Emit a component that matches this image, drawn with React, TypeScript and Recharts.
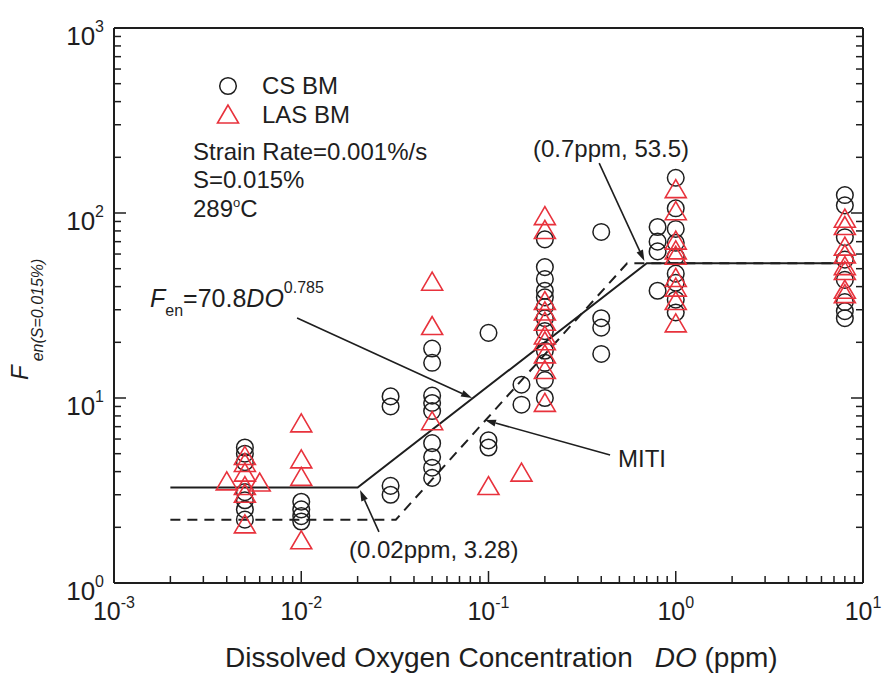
import React from 'react';
import { ComposedChart, XAxis, YAxis, Scatter, Line, ReferenceLine } from 'recharts';

const W = 884;
const H = 677;
const INK = '#1e1e1e';
const RED = '#e8323c';
const FONT = '"Liberation Sans", Arial, Helvetica, sans-serif';

// Carbon steel base metal (CS BM): DO column -> Fen values
const csDO = [0.005, 0.01, 0.03, 0.05, 0.1, 0.15, 0.2, 0.4, 0.8, 1, 8];
const csFen = [
  [5.4, 5.0, 4.5, 3.1, 2.8, 2.5, 2.2],
  [2.75, 2.5, 2.3, 2.15],
  [10.2, 9.0, 3.35, 3.0],
  [18.5, 15.5, 10.3, 9.4, 8.5, 5.7, 4.8, 4.2, 3.7],
  [22.5, 5.9, 5.4],
  [11.8, 9.2],
  [72, 51, 44, 38, 35, 31, 27, 23, 18, 15.5, 12.5, 10],
  [79, 27, 24, 17.3],
  [84, 70, 62, 38],
  [155, 106, 82, 69, 58, 47, 42, 34, 29],
  [125, 110, 74, 56, 43.5, 33, 29.5, 27],
];

// Low alloy steel base metal (LAS BM)
const lasDO = [0.004, 0.005, 0.006, 0.01, 0.05, 0.1, 0.15, 0.2, 1, 8];
const lasFen = [
  [3.5],
  [4.8, 4.4, 3.9, 3.3, 3.0, 2.05],
  [3.45],
  [7.2, 4.6, 3.7, 1.68],
  [42, 24.2, 7.4],
  [3.3],
  [3.9],
  [95, 80, 33, 29, 25.5, 21.5, 20, 17, 14, 9.3],
  [133, 101, 70, 62, 58, 44, 39, 33, 25],
  [92, 84, 65, 59, 51, 48, 38, 36],
];

// Fen = 70.8 DO^0.785 model (solid) and MITI (dashed)
const modelDO = [0.002, 0.02, 0.7, 8];
const modelFen = [3.28, 3.28, 53.5, 53.5];
const mitiDO = [0.002, 0.032, 0.55, 8];
const mitiFen = [2.2, 2.2, 53.5, 53.5];

// annotation arrows, in data coordinates [DO, Fen]
const arrowFrom = [[0.39, 186], [0.0095, 27.1], [0.446, 4.92], [0.026, 1.89]];
const arrowTo = [[0.68, 55], [0.0817, 10], [0.0957, 7.6], [0.0206, 3.18]];

const decades = (lo: number, hi: number) => {
  const out: number[] = [];
  for (let d = lo; d < hi; d++) {
    for (let k = 1; k <= 9; k++) out.push(Number((k * Math.pow(10, d)).toPrecision(3)));
  }
  out.push(Number(Math.pow(10, hi).toPrecision(3)));
  return out;
};
const xTicks = decades(-3, 1);
const yTicks = decades(0, 3);

const zip = (xs: number[], ys: number[][]) =>
  xs.flatMap((x, i) => ys[i].map((y) => ({ x, y })));
const csData = zip(csDO, csFen);
const lasData = zip(lasDO, lasFen);
const modelData = modelDO.map((x, i) => ({ x, y: modelFen[i] }));
const mitiData = mitiDO.map((x, i) => ({ x, y: mitiFen[i] }));

const isMajor = (v: number) => Math.abs(Math.log10(v) - Math.round(Math.log10(v))) < 1e-6;
const MAJ = 12;
const MIN = 7;

const BottomTick = (p: any) => {
  const { x, y, payload } = p;
  const v = payload.value;
  const major = isMajor(v);
  const e = Math.round(Math.log10(v));
  return (
    <g>
      <line x1={x} y1={y} x2={x} y2={y - (major ? MAJ : MIN)} stroke={INK} strokeWidth={1.5} />
      {major && (
        <text x={x} y={y + 37} textAnchor="middle" fontSize={25} fill={INK} fontFamily={FONT}>
          10<tspan dy={-12} fontSize={16}>{e}</tspan>
        </text>
      )}
    </g>
  );
};
const TopTick = (p: any) => {
  const { x, y, payload } = p;
  const major = isMajor(payload.value);
  return <line x1={x} y1={y} x2={x} y2={y + (major ? MAJ : MIN)} stroke={INK} strokeWidth={1.5} />;
};
const LeftTick = (p: any) => {
  const { x, y, payload } = p;
  const v = payload.value;
  const major = isMajor(v);
  const e = Math.round(Math.log10(v));
  return (
    <g>
      <line x1={x} y1={y} x2={x + (major ? MAJ : MIN)} y2={y} stroke={INK} strokeWidth={1.5} />
      {major && (
        <text x={x - 10} y={y + 17} textAnchor="end" fontSize={26} fill={INK} fontFamily={FONT}>
          10<tspan dy={-13} fontSize={16}>{e}</tspan>
        </text>
      )}
    </g>
  );
};
const RightTick = (p: any) => {
  const { x, y, payload } = p;
  const major = isMajor(payload.value);
  return <line x1={x} y1={y} x2={x - (major ? MAJ : MIN)} y2={y} stroke={INK} strokeWidth={1.5} />;
};

const CircleShape = (p: any) => (
  <circle cx={p.cx} cy={p.cy} r={8.3} fill="none" stroke={INK} strokeWidth={1.5} />
);
const TriShape = (p: any) => (
  <polygon
    points={`${p.cx},${p.cy - 10.5} ${p.cx - 10.5},${p.cy + 7.5} ${p.cx + 10.5},${p.cy + 7.5}`}
    fill="none"
    stroke={RED}
    strokeWidth={1.6}
  />
);

const ArrowShape = (p: any) => {
  const { x1, y1, x2, y2 } = p;
  const ang = Math.atan2(y2 - y1, x2 - x1);
  const L = 11;
  const hw = 3.5;
  const bx = x2 - L * Math.cos(ang);
  const by = y2 - L * Math.sin(ang);
  const px = -Math.sin(ang) * hw;
  const py = Math.cos(ang) * hw;
  return (
    <g>
      <line x1={x1} y1={y1} x2={bx} y2={by} stroke={INK} strokeWidth={1.6} />
      <polygon points={`${x2},${y2} ${bx + px},${by + py} ${bx - px},${by - py}`} fill={INK} />
    </g>
  );
};

const axisLine = { stroke: INK, strokeWidth: 2 };

export default function App() {
  return (
    <div style={{ position: 'absolute', left: 0, top: 0, width: W, height: H, background: '#fff' }}>
      <ComposedChart
        width={W}
        height={H}
        margin={{ top: 18, right: 11, bottom: 0, left: 0 }}
      >
        <XAxis
          dataKey="x"
          type="number"
          scale="log"
          domain={[0.001, 10]}
          ticks={xTicks}
          interval={0}
          allowDataOverflow
          height={94}
          tickSize={0}
          tickMargin={0}
          tickLine={false}
          axisLine={axisLine}
          tick={BottomTick}
        />
        <XAxis
          xAxisId="top"
          orientation="top"
          type="number"
          scale="log"
          domain={[0.001, 10]}
          ticks={xTicks}
          interval={0}
          allowDataOverflow
          height={10}
          tickSize={0}
          tickMargin={0}
          tickLine={false}
          axisLine={axisLine}
          tick={TopTick}
        />
        <YAxis
          dataKey="y"
          type="number"
          scale="log"
          domain={[1, 1000]}
          ticks={yTicks}
          interval={0}
          allowDataOverflow
          width={114}
          tickSize={0}
          tickMargin={0}
          tickLine={false}
          axisLine={axisLine}
          tick={LeftTick}
        />
        <YAxis
          yAxisId="right"
          orientation="right"
          type="number"
          scale="log"
          domain={[1, 1000]}
          ticks={yTicks}
          interval={0}
          allowDataOverflow
          width={10}
          tickSize={0}
          tickMargin={0}
          tickLine={false}
          axisLine={axisLine}
          tick={RightTick}
        />
        <Line
          data={mitiData}
          dataKey="y"
          type="linear"
          stroke={INK}
          strokeWidth={2}
          strokeDasharray="10 7"
          dot={false}
          activeDot={false}
          isAnimationActive={false}
        />
        <Line
          data={modelData}
          dataKey="y"
          type="linear"
          stroke={INK}
          strokeWidth={2}
          dot={false}
          activeDot={false}
          isAnimationActive={false}
        />
        <Scatter data={csData} shape={CircleShape} isAnimationActive={false} />
        <Scatter data={lasData} shape={TriShape} isAnimationActive={false} />
        {arrowFrom.map((f, i) => (
          <ReferenceLine
            key={i}
            segment={[{ x: f[0], y: f[1] }, { x: arrowTo[i][0], y: arrowTo[i][1] }]}
            shape={ArrowShape}
            ifOverflow="visible"
          />
        ))}
      </ComposedChart>
      <svg
        width={W}
        height={H}
        style={{ position: 'absolute', left: 0, top: 0, pointerEvents: 'none' }}
        fontFamily={FONT}
        fill={INK}
      >
        <circle cx={228} cy={86} r={8.3} fill="none" stroke={INK} strokeWidth={1.5} />
        <text x={262} y={94} fontSize={24}>CS BM</text>
        <polygon points="228,105 217.5,123 238.5,123" fill="none" stroke={RED} strokeWidth={1.6} />
        <text x={262} y={123} fontSize={24}>LAS BM</text>
        <text x={193} y={160} fontSize={24}>Strain Rate=0.001%/s</text>
        <text x={193} y={188} fontSize={24}>S=0.015%</text>
        <text x={193} y={217} fontSize={24}>
          289<tspan dy={-10} fontSize={13}>o</tspan>
          <tspan dy={10}>C</tspan>
        </text>
        <text x={533} y={157} fontSize={24}>(0.7ppm, 53.5)</text>
        <text x={150} y={307} fontSize={25}>
          <tspan fontStyle="italic">F</tspan>
          <tspan dy={9} fontSize={16}>en</tspan>
          <tspan dy={-9}>=70.8</tspan>
          <tspan fontStyle="italic">DO</tspan>
          <tspan dy={-14} fontSize={16}>0.785</tspan>
        </text>
        <text x={618} y={467} fontSize={24}>MITI</text>
        <text x={349} y={558} fontSize={24}>(0.02ppm, 3.28)</text>
        <text x={225} y={667} fontSize={28}>
          Dissolved Oxygen Concentration
          <tspan dx={22} fontStyle="italic">DO</tspan>
          <tspan> (ppm)</tspan>
        </text>
        <text transform="translate(28, 380) rotate(-90)" fontSize={24}>
          <tspan fontStyle="italic">F</tspan>
          <tspan dx={4} dy={15} fontSize={16} fontStyle="italic">en(S=0.015%)</tspan>
        </text>
      </svg>
    </div>
  );
}
